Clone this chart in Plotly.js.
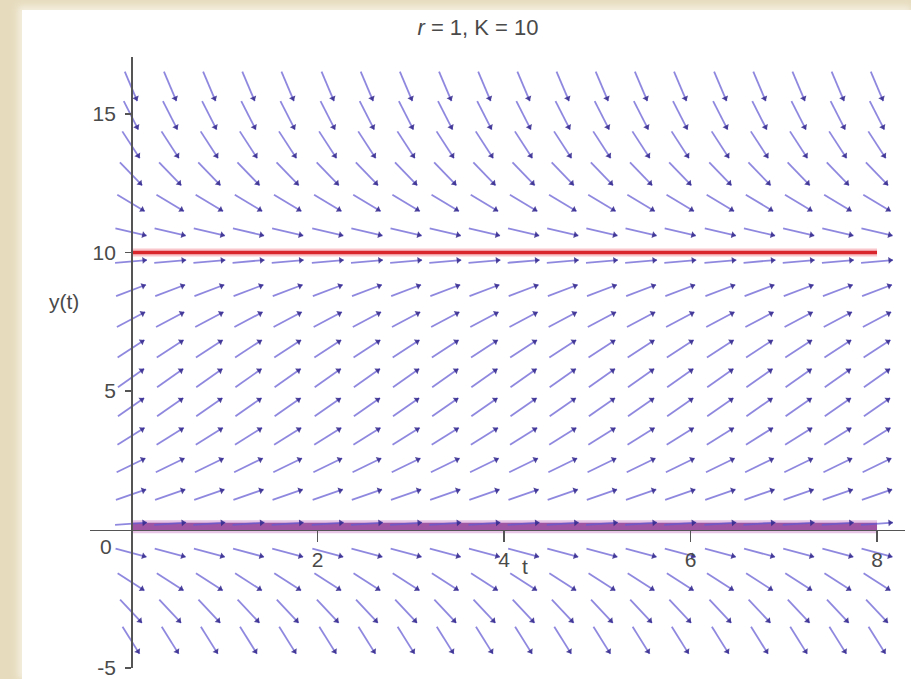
<!DOCTYPE html>
<html>
<head>
<meta charset="utf-8">
<script src="https://cdn.plot.ly/plotly-3.0.1.min.js"></script>
<style>
  html, body { margin: 0; padding: 0; width: 911px; height: 679px; overflow: hidden; background: #e6dbbd; }
  #frame { position: absolute; left: 22px; top: 10px; width: 889px; height: 669px; background: #fff;
           box-shadow: -2px -2px 7px 2px #f4efe0; }
  #chart { width: 889px; height: 669px; }
</style>
</head>
<body>
<div id="frame"><div id="chart"></div></div>
<script>
// Direction field of the logistic equation y' = r y (1 - y/K), r = 1, K = 10
const tColumns = [0, 0.42, 0.84, 1.26, 1.68, 2.11, 2.53, 2.95, 3.37, 3.79,
                  4.21, 4.63, 5.05, 5.47, 5.89, 6.32, 6.74, 7.16, 7.58, 8.0];
const yRows = [-4, -2.95, -1.89, -0.84, 0.21, 1.26, 2.32, 3.37, 4.42, 5.47,
               6.53, 7.58, 8.63, 9.68, 10.74, 11.79, 12.84, 13.89, 14.95, 16];
// slope dy/dt of the arrows on each row
const rowSlopes = [-5.38, -3.61, -2.19, -0.90, 0.24, 1.16, 1.64, 2.10, 2.36, 2.36,
                   2.19, 1.79, 1.29, 0.29, -0.78, -2.02, -3.49, -5.18, -6.60, -7.93];
const xTickVals = [2, 4, 6, 8];
const xTickText = ['2', '4', '6', '8'];
const yTickVals = [-5, 5, 10, 15];
const yTickText = ['-5', '5', '10', '15'];
// equilibrium solutions
const upperLineT = [0, 8];
const upperLineY = [10, 10];
const lowerLineT = [0, 8];
const lowerLineY = [0.1, 0.1];
const titleText = '<i>r</i>\u00a0=\u00a01,\u00a0K\u00a0=\u00a010';

const W = 889, H = 669;
const M = { l: 68, r: 6, t: 47, b: 11 };
const xRange = [-0.44, 8.3];
const yRange = [-5, 17.06];
const pxT = (W - M.l - M.r) / (xRange[1] - xRange[0]);
const pxY = (H - M.t - M.b) / (yRange[1] - yRange[0]);
const halfLen = 16;

const shaftX = [], shaftY = [], headX = [], headY = [], headAngle = [];
yRows.forEach((y, i) => {
  const vx = pxT, vy = rowSlopes[i] * pxY;
  const n = Math.hypot(vx, vy);
  const ux = vx / n, uy = vy / n;
  const ang = 90 - Math.atan2(uy, ux) * 180 / Math.PI;
  tColumns.forEach(t => {
    const dt = ux * halfLen / pxT, dy = uy * halfLen / pxY;
    shaftX.push(t - dt, t + dt, null);
    shaftY.push(y - dy, y + dy, null);
    headX.push(t + dt - ux * 3 / pxT);
    headY.push(y + dy - uy * 3 / pxY);
    headAngle.push(ang);
  });
});

const font = { family: 'Liberation Sans, Arial, sans-serif', size: 21, color: '#4a4a4a' };

const traces = [
  { x: lowerLineT, y: lowerLineY, mode: 'lines', hoverinfo: 'skip',
    line: { color: 'rgba(210,150,210,0.55)', width: 13 } },
  { x: lowerLineT, y: lowerLineY, mode: 'lines', hoverinfo: 'skip',
    line: { color: 'rgba(150,72,155,0.9)', width: 8 } },
  { x: shaftX, y: shaftY, mode: 'lines', hoverinfo: 'skip', connectgaps: false,
    line: { color: 'rgba(100,90,210,0.72)', width: 1.8 } },
  { x: headX, y: headY, mode: 'markers', hoverinfo: 'skip',
    marker: { symbol: 'triangle-up', size: 6, angle: headAngle, color: 'rgba(50,40,140,0.85)', line: { width: 0 } } },
  { x: upperLineT, y: upperLineY, mode: 'lines', hoverinfo: 'skip',
    line: { color: 'rgba(245,160,170,0.6)', width: 8 } },
  { x: upperLineT, y: upperLineY, mode: 'lines', hoverinfo: 'skip',
    line: { color: '#d9262c', width: 3.5 } }
];

const axisCommon = {
  showgrid: false, zeroline: false, showline: true, linecolor: '#555', linewidth: 1.5,
  ticks: 'outside', tickcolor: '#555', tickwidth: 1.5, tickfont: font, fixedrange: true,
  ticklabeloverflow: 'allow'
};

const layout = {
  width: W, height: H, margin: M, showlegend: false,
  paper_bgcolor: '#ffffff', plot_bgcolor: '#ffffff',
  title: { text: titleText, font: Object.assign({}, font, { size: 22 }), xref: 'paper',
           x: (478 - 90) / (W - M.l - M.r), xanchor: 'center',
           yref: 'container', y: 1 - 17 / H, yanchor: 'middle' },
  xaxis: Object.assign({}, axisCommon, {
    range: xRange, anchor: 'free', position: (0 - yRange[0]) / (yRange[1] - yRange[0]),
    tickvals: xTickVals, ticktext: xTickText, ticklen: 11
  }),
  yaxis: Object.assign({}, axisCommon, {
    range: yRange, anchor: 'free', position: (0 - xRange[0]) / (xRange[1] - xRange[0]),
    tickvals: yTickVals, ticktext: yTickText, ticklen: 6, ticklabelstandoff: 5
  }),
  annotations: [
    { text: 'y(t)', xref: 'paper', x: (64 - 90) / (W - M.l - M.r), yref: 'y', y: 8.25,
      showarrow: false, font: font, xanchor: 'center', yanchor: 'middle' },
    { text: 't', xref: 'x', x: 4.22, yref: 'y', y: -1.32,
      showarrow: false, font: font, xanchor: 'center', yanchor: 'middle' },
    { text: '0', xref: 'x', x: -0.27, yref: 'y', y: -0.6,
      showarrow: false, font: font, xanchor: 'center', yanchor: 'middle' }
  ]
};

Plotly.newPlot('chart', traces, layout, { staticPlot: true, displayModeBar: false });
</script>
</body>
</html>
